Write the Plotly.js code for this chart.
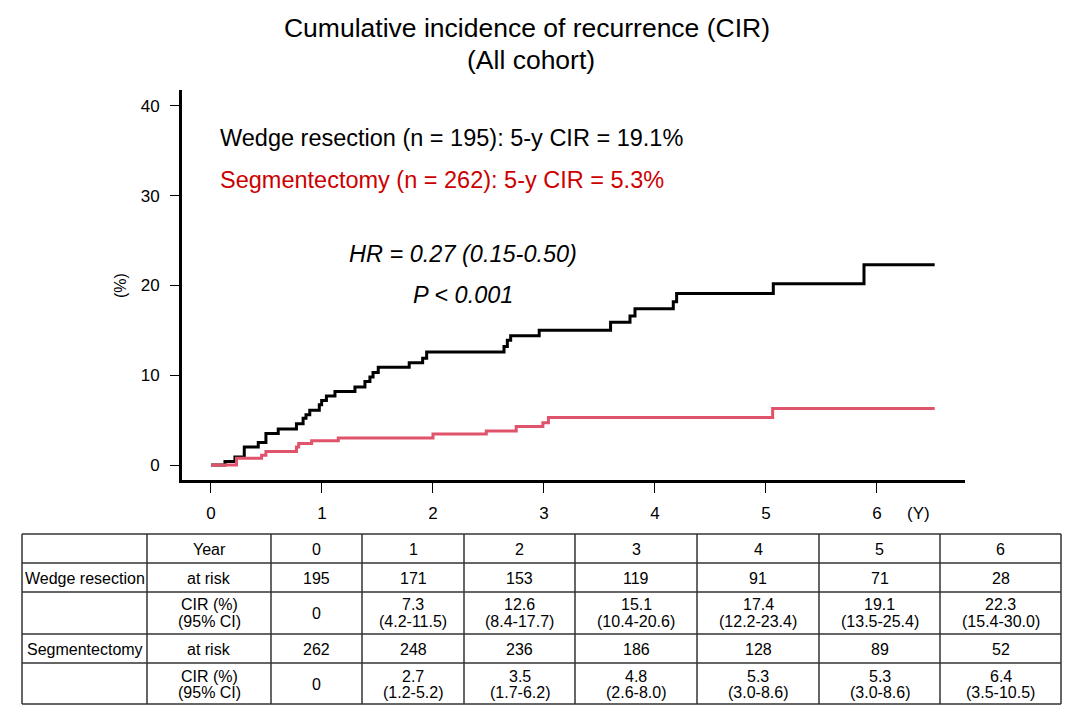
<!DOCTYPE html>
<html>
<head>
<meta charset="utf-8">
<script src="https://cdn.plot.ly/plotly-3.0.1.min.js"></script>
<style>html,body{margin:0;padding:0;background:#fff;}#chart{width:1080px;height:718px;}</style>
</head>
<body>
<div id="chart"></div>
<script>
// Wedge resection cumulative incidence step curve (years, %)
const wedgeTime = [0, 0.126, 0.216, 0.30, 0.426, 0.495, 0.606, 0.77, 0.83, 0.856, 0.89, 0.976, 0.997, 1.04, 1.117, 1.297, 1.387, 1.432, 1.46, 1.507, 1.786, 1.907, 1.943, 2.64, 2.67, 2.70, 2.957, 3.60, 3.775, 3.82, 4.165, 4.195, 5.066, 5.883, 6.52];
const wedgeCIR  = [0, 0.4, 0.9, 2.0, 2.5, 3.5, 4.0, 4.6, 5.2, 5.6, 6.1, 6.7, 7.2, 7.7, 8.2, 8.7, 9.3, 9.8, 10.3, 10.9, 11.4, 11.9, 12.6, 13.2, 13.9, 14.4, 15.0, 15.9, 16.6, 17.4, 18.2, 19.1, 20.2, 22.3, 22.3];
// Segmentectomy cumulative incidence step curve (years, %)
const segTime = [0, 0.23, 0.456, 0.495, 0.77, 0.79, 0.907, 1.147, 2.0, 2.48, 2.75, 2.99, 3.04, 5.06, 6.52];
const segCIR  = [0, 0.75, 1.1, 1.5, 2.0, 2.4, 2.7, 3.0, 3.45, 3.8, 4.3, 4.7, 5.3, 6.3, 6.3];

const xTicks = [0, 1, 2, 3, 4, 5, 6];
const yTicks = [0, 10, 20, 30, 40];

// Table contents
const years = ["0", "1", "2", "3", "4", "5", "6"];
const wedgeAtRisk = ["195", "171", "153", "119", "91", "71", "28"];
const wedgeCIRval = ["0", "7.3", "12.6", "15.1", "17.4", "19.1", "22.3"];
const wedgeCI     = ["", "(4.2-11.5)", "(8.4-17.7)", "(10.4-20.6)", "(12.2-23.4)", "(13.5-25.4)", "(15.4-30.0)"];
const segAtRisk = ["262", "248", "236", "186", "128", "89", "52"];
const segCIRval = ["0", "2.7", "3.5", "4.8", "5.3", "5.3", "6.4"];
const segCI     = ["", "(1.2-5.2)", "(1.7-6.2)", "(2.6-8.0)", "(3.0-8.6)", "(3.0-8.6)", "(3.5-10.5)"];
const groupNames = ["Wedge resection", "Segmentectomy"];
const rowLabels = ["Year", "at risk", "CIR (%)", "(95% CI)"];

const FONT = "Liberation Sans, Arial, sans-serif";
const W = 1080, H = 718;
const px = v => v / W;
const py = v => 1 - v / H;

// table geometry (pixels)
const colB = [22, 147, 271, 362, 464, 575, 697, 819, 940, 1061];
const rowB = [534, 563, 592, 634, 663, 704];

const shapes = [];
const annotations = [];
function cellText(text, col, yCenter, color) {
  if (text === "") return;
  annotations.push({
    text: text, xref: "paper", yref: "paper",
    x: px((colB[col] + colB[col + 1]) / 2), y: py(yCenter),
    xanchor: "center", yanchor: "middle", showarrow: false,
    font: {family: FONT, size: 16, color: color || "#000"}
  });
}
// grid lines
colB.forEach(c => shapes.push({type: "line", xref: "paper", yref: "paper",
  x0: px(c), x1: px(c), y0: py(rowB[0]), y1: py(rowB[rowB.length - 1]),
  line: {color: "#333333", width: 1.5}}));
rowB.forEach(r => shapes.push({type: "line", xref: "paper", yref: "paper",
  x0: px(colB[0]), x1: px(colB[colB.length - 1]), y0: py(r), y1: py(r),
  line: {color: "#333333", width: 1.5}}));

// row 0: header
cellText(rowLabels[0], 1, 549);
years.forEach((y, i) => cellText(y, i + 2, 549));
// wedge rows
cellText(groupNames[0], 0, 578);
cellText(rowLabels[1], 1, 578);
wedgeAtRisk.forEach((v, i) => cellText(v, i + 2, 578));
cellText(rowLabels[2], 1, 604);
cellText(rowLabels[3], 1, 621);
wedgeCIRval.forEach((v, i) => cellText(v, i + 2, wedgeCI[i] === "" ? 613 : 604));
wedgeCI.forEach((v, i) => cellText(v, i + 2, 621));
// segmentectomy rows
cellText(groupNames[1], 0, 649);
cellText(rowLabels[1], 1, 649);
segAtRisk.forEach((v, i) => cellText(v, i + 2, 649));
cellText(rowLabels[2], 1, 676);
cellText(rowLabels[3], 1, 692);
segCIRval.forEach((v, i) => cellText(v, i + 2, segCI[i] === "" ? 684 : 676));
segCI.forEach((v, i) => cellText(v, i + 2, 692));

// chart annotations
annotations.push(
  {text: "(All cohort)", xref: "paper", yref: "paper",
   x: px(531), y: py(60), xanchor: "center", yanchor: "middle", showarrow: false,
   font: {family: FONT, size: 26.5, color: "#000"}},
  {text: "Wedge resection (n = 195): 5-y CIR = 19.1%", xref: "paper", yref: "paper",
   x: px(218), y: py(138), xanchor: "left", yanchor: "middle", showarrow: false,
   font: {family: FONT, size: 23.5, color: "#000"}},
  {text: "Segmentectomy (n = 262): 5-y CIR = 5.3%", xref: "paper", yref: "paper",
   x: px(218), y: py(180), xanchor: "left", yanchor: "middle", showarrow: false,
   font: {family: FONT, size: 23.5, color: "#CC0000"}},
  {text: "<i>HR = 0.27 (0.15-0.50)</i>", xref: "paper", yref: "paper",
   x: px(463), y: py(254), xanchor: "center", yanchor: "middle", showarrow: false,
   font: {family: FONT, size: 23.5, color: "#000"}},
  {text: "<i>P < 0.001</i>", xref: "paper", yref: "paper",
   x: px(463), y: py(295), xanchor: "center", yanchor: "middle", showarrow: false,
   font: {family: FONT, size: 23.5, color: "#000"}},
  {text: "(%)", xref: "paper", yref: "paper", textangle: -90,
   x: px(120), y: py(286), xanchor: "center", yanchor: "middle", showarrow: false,
   font: {family: FONT, size: 16, color: "#000"}},
  {text: "(Y)", xref: "paper", yref: "paper",
   x: px(918), y: py(513), xanchor: "center", yanchor: "middle", showarrow: false,
   font: {family: FONT, size: 17, color: "#000"}}
);

const traces = [
  {
    type: "scatter", mode: "lines", x: wedgeTime, y: wedgeCIR,
    line: {shape: "hv", color: "#000000", width: 3},
    hoverinfo: "skip", showlegend: false
  },
  {
    type: "scatter", mode: "lines", x: segTime, y: segCIR,
    line: {shape: "hv", color: "#DF536B", width: 3},
    hoverinfo: "skip", showlegend: false
  }
];

const layout = {
  width: W, height: H,
  margin: {l: 0, r: 0, t: 0, b: 0},
  paper_bgcolor: "#ffffff", plot_bgcolor: "#ffffff",
  font: {family: FONT, color: "#000"},
  showlegend: false,
  title: {
    text: "Cumulative incidence of recurrence (CIR)",
    font: {family: FONT, size: 26.5, color: "#000"},
    x: px(527), xanchor: "center", y: py(28), yanchor: "middle"
  },
  xaxis: {
    domain: [px(182), px(965)], range: [-0.261, 6.793],
    tickvals: xTicks, ticktext: xTicks.map(String),
    ticks: "outside", ticklen: 10, tickwidth: 1, tickcolor: "#000",
    ticklabelstandoff: 6,
    showline: true, linewidth: 3, linecolor: "#000",
    showgrid: false, zeroline: false, fixedrange: true,
    tickfont: {family: FONT, size: 17, color: "#000"}
  },
  yaxis: {
    domain: [py(480), py(90)], range: [-1.671, 41.78],
    tickvals: yTicks, ticktext: yTicks.map(String),
    ticks: "outside", ticklen: 9, tickwidth: 1, tickcolor: "#000",
    ticklabelstandoff: 7,
    showline: true, linewidth: 3, linecolor: "#000",
    showgrid: false, zeroline: false, fixedrange: true,
    tickfont: {family: FONT, size: 17, color: "#000"}
  },
  shapes: shapes,
  annotations: annotations
};

Plotly.newPlot("chart", traces, layout, {staticPlot: true, displayModeBar: false});
</script>
</body>
</html>
